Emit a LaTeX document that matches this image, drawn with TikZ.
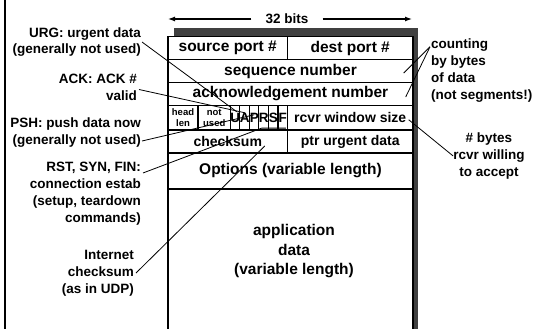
\documentclass[tikz,border=0pt]{standalone}
\usepackage{fontspec}
\setmainfont{Liberation Sans}
\usetikzlibrary{calc}
\usetikzlibrary{arrows.meta}
\definecolor{shadowgray}{RGB}{64,64,64}
\newcommand{\bigfont}{\bfseries\fontsize{15.5}{19.5}\selectfont}
\newcommand{\midfont}{\bfseries\fontsize{14}{16}\selectfont}
\newcommand{\notefont}{\bfseries\fontsize{13.5}{16.8}\selectfont}
\newcommand{\tinyfont}{\bfseries\fontsize{9.5}{11.5}\selectfont}
\tikzstyle{field}=[draw, fill=white, line width=1.4pt, inner sep=0, font=\bigfont]
\tikzstyle{small field}=[field, font=\midfont]
\tikzstyle{flag}=[field, line width=1.2pt, font=\bfseries\fontsize{13.5}{14}\selectfont, minimum width=9.5pt, minimum height=24.5pt]
\tikzstyle{note}=[inner sep=0, font=\notefont]
\tikzstyle{pointer}=[line width=0.8pt]

\begin{document}
\begin{tikzpicture}[x=1pt, y=-1pt]
  \useasboundingbox (0,0) rectangle (546,329);
  \clip (0,0) rectangle (546,329);
  \fill[shadowgray] (174,28) rectangle (418,340);
  \draw[line width=2pt] (5,0) -- (5,329);

  \node[field, minimum width=119.5pt, minimum height=23pt] (src) at (227.75,48) {source port \#};
  \node[field, minimum width=125.5pt, minimum height=23pt] (dst) at (350.25,48) {dest port \#};
  \node[field, minimum width=245pt, minimum height=23pt] (seq) at (290.5,71) {sequence number};
  \node[field, minimum width=245pt, minimum height=23pt] (ack) at (290.5,94) {acknowledgement number};
  \node[field, font=\tinyfont, align=center, minimum width=30pt, minimum height=24.5pt] (hlen) at (183,117.75) {head\\len};
  \node[field, font=\tinyfont, align=center, minimum width=32.5pt, minimum height=24.5pt] (unused) at (214.25,117.75) {not\\used};
  \foreach \f [count=\i from 0] in {U,A,P,R,S,F}
    \node[flag] (flag\f) at ({235.25+9.5*\i},117.75) {\f};
  \node[small field, minimum width=125.5pt, minimum height=24.5pt] (rwin) at (350.25,117.75) {rcvr window size};
  \node[small field, minimum width=119.5pt, minimum height=23pt] (cksum) at (227.75,141.5) {checksum};
  \node[small field, minimum width=125.5pt, minimum height=23pt] (urgptr) at (350.25,141.5) {ptr urgent data};
  \node[field, minimum width=245pt, minimum height=36pt] (opts) at (290.5,171) {Options (variable length)};
  \node[field, minimum width=245pt, minimum height=151pt] (data) at (290.5,264.5) {};
  \node[font=\bigfont, align=center] (appdata) at (294,251.5) {application\\data\\(variable length)};

  \node[font=\bfseries\fontsize{13.5}{15}\selectfont, inner xsep=14pt, inner ysep=0] (bits) at (287,19) {32 bits};
  \coordinate (bitsL) at (168,19);
  \coordinate (bitsR) at (412,19);
  \draw[line width=1.2pt, -{Latex[length=7pt,width=5pt]}] (bits) -- (bitsL);
  \draw[line width=1.2pt, -{Latex[length=7pt,width=5pt]}] (bits) -- (bitsR);

  \node[note, anchor=east, align=right] (urg) at (141,42) {URG: urgent data\\(generally not used)};
  \node[note, anchor=east, align=right] (acknote) at (137,87.5) {ACK: ACK \#\\valid};
  \node[note, anchor=east, align=right] (psh) at (141,132.5) {PSH: push data now\\(generally not used)};
  \node[note, anchor=east, align=right] (rst) at (141,193.5) {RST, SYN, FIN:\\connection estab\\(setup, teardown\\commands)};
  \node[note, anchor=east, align=right] (inet) at (134,273) {Internet\\checksum\\(as in UDP)};
  \node[note, anchor=west, align=left] (cnt) at (431,70.5) {counting\\by bytes\\of data\\(not segments!)};
  \node[note, align=center] (nbytes) at (489,156) {\# bytes\\rcvr willing\\to accept};

  \draw[pointer] ($(urg.east)+(1,0)$) -- ($(flagU)+(1.5,-6)$);
  \draw[pointer] ($(acknote.east)+(2,2)$) -- ($(flagA)+(0,-5)$);
  \draw[pointer] ($(psh.east)+(1,8.5)$) -- ($(flagP)+(0,-3)$);
  \draw[pointer] ($(rst.north east)+(2,11)$) -- ($(flagR.south)+(-2,-2.5)$) -- ($(flagF.south)+(3,-2.5)$);
  \draw[pointer] ($(inet.east)+(2,0)$) -- ($(cksum)+(37,4.5)$);
  \draw[pointer] ($(cnt.north west)+(-1,8)$) -- ($(seq.east)+(-10,2)$);
  \draw[pointer] ($(cnt.north west)+(-1,8)$) -- ($(ack.east)+(-8,3)$);
  \draw[pointer] ($(rwin.east)+(-5,2)$) -- (nbytes.west);
\end{tikzpicture}
\end{document}
